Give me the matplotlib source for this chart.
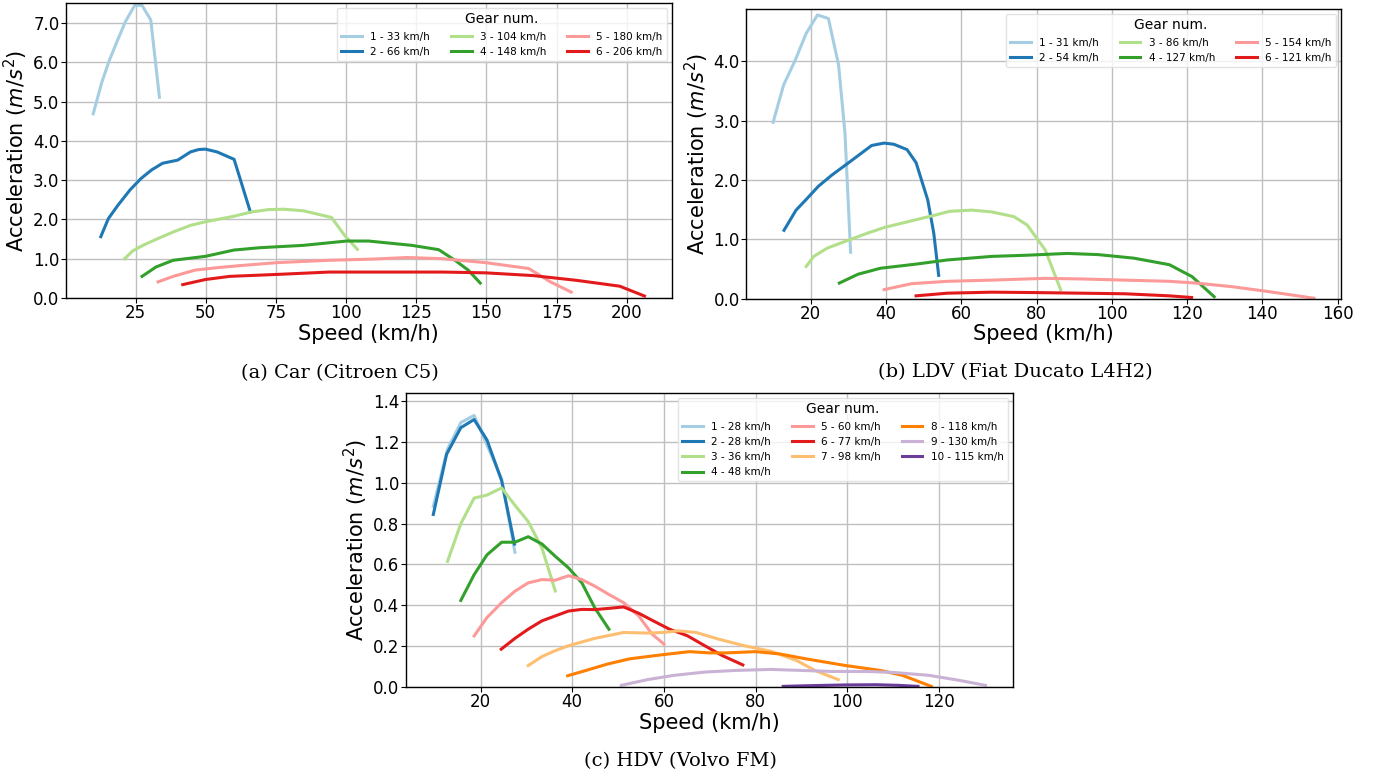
import matplotlib
matplotlib.use("Agg")
import matplotlib.pyplot as plt
from matplotlib.ticker import FormatStrFormatter

# Paired palette, one colour per gear
GEAR_COLORS = ['#a6cee3', '#1f78b4', '#b2df8a', '#33a02c', '#fb9a99',
               '#e31a1c', '#fdbf6f', '#ff7f00', '#cab2d6', '#6a3d9a']

# ---- (a) Car (Citroen C5) ----
car_labels = ['1 - 33 km/h', '2 - 66 km/h', '3 - 104 km/h',
              '4 - 148 km/h', '5 - 180 km/h', '6 - 206 km/h']
car_speed = [
    [9.9, 13.0, 15.7, 18.5, 21.4, 24.7, 27.3, 30.4, 33.5],
    [12.6, 15.3, 18.7, 23.0, 26.9, 30.7, 34.6, 40.0, 44.6, 47.5, 49.9, 54.0, 60.1, 65.9],
    [21.1, 24.0, 27.6, 33.8, 38.4, 44.6, 49.9, 60.0, 66.2, 72.4, 77.8, 84.8, 94.8, 99.4, 104.0],
    [27.3, 32.3, 38.4, 49.9, 60.0, 69.3, 84.8, 100.2, 108.0, 123.4, 133.0, 138.8, 143.5, 147.8],
    [33.0, 38.4, 46.2, 53.9, 63.2, 75.5, 94.0, 109.5, 121.8, 134.2, 149.7, 165.1, 172.8, 180.2],
    [41.8, 49.9, 58.5, 75.5, 94.0, 115.7, 134.2, 149.7, 166.6, 182.0, 197.5, 206.3],
]
car_accel = [
    [4.69, 5.50, 6.06, 6.55, 7.04, 7.45, 7.45, 7.08, 5.11],
    [1.56, 2.02, 2.36, 2.75, 3.04, 3.26, 3.43, 3.51, 3.72, 3.78, 3.79, 3.72, 3.53, 2.19],
    [1.00, 1.20, 1.34, 1.54, 1.68, 1.85, 1.94, 2.08, 2.19, 2.25, 2.26, 2.22, 2.05, 1.60, 1.24],
    [0.55, 0.79, 0.96, 1.06, 1.22, 1.28, 1.34, 1.45, 1.45, 1.34, 1.23, 0.96, 0.71, 0.38],
    [0.41, 0.55, 0.71, 0.77, 0.83, 0.90, 0.96, 0.99, 1.03, 1.00, 0.90, 0.75, 0.41, 0.15],
    [0.34, 0.47, 0.55, 0.60, 0.66, 0.66, 0.66, 0.64, 0.57, 0.45, 0.30, 0.05],
]

# ---- (b) LDV (Fiat Ducato L4H2) ----
ldv_labels = ['1 - 31 km/h', '2 - 54 km/h', '3 - 86 km/h',
              '4 - 127 km/h', '5 - 154 km/h', '6 - 121 km/h']
ldv_speed = [
    [10.0, 12.8, 15.9, 18.8, 21.8, 24.7, 27.4, 29.1, 30.6],
    [12.9, 16.1, 19.1, 22.0, 25.6, 30.3, 36.2, 39.5, 42.1, 45.6, 48.0, 51.1, 52.7, 54.0],
    [18.8, 20.8, 24.4, 30.3, 35.0, 39.7, 46.8, 53.3, 56.9, 62.8, 68.1, 74.0, 77.5, 82.3, 86.4],
    [27.6, 32.6, 38.5, 48.0, 56.3, 68.1, 77.5, 88.2, 96.4, 105.9, 115.3, 121.3, 127.2],
    [39.5, 46.8, 56.3, 68.1, 82.3, 91.7, 103.5, 115.3, 122.4, 131.9, 141.3, 153.7],
    [48.0, 56.3, 68.1, 80.0, 91.7, 103.5, 115.3, 121.2],
]
ldv_accel = [
    [2.97, 3.60, 4.02, 4.47, 4.78, 4.72, 3.94, 2.79, 0.78],
    [1.15, 1.49, 1.69, 1.89, 2.08, 2.30, 2.58, 2.62, 2.60, 2.51, 2.29, 1.66, 1.10, 0.39],
    [0.54, 0.71, 0.85, 0.99, 1.10, 1.20, 1.31, 1.41, 1.47, 1.49, 1.46, 1.38, 1.24, 0.82, 0.15],
    [0.26, 0.41, 0.51, 0.58, 0.65, 0.71, 0.73, 0.76, 0.74, 0.68, 0.57, 0.37, 0.03],
    [0.15, 0.25, 0.29, 0.31, 0.34, 0.33, 0.31, 0.29, 0.26, 0.20, 0.12, 0.005],
    [0.045, 0.09, 0.107, 0.10, 0.09, 0.08, 0.045, 0.017],
]

# ---- (c) HDV (Volvo FM) ----
hdv_labels = ['1 - 28 km/h', '2 - 28 km/h', '3 - 36 km/h', '4 - 48 km/h',
              '5 - 60 km/h', '6 - 77 km/h', '7 - 98 km/h', '8 - 118 km/h',
              '9 - 130 km/h', '10 - 115 km/h']
hdv_speed = [
    [9.7, 12.8, 15.7, 18.6, 24.6, 27.5],
    [9.7, 12.6, 15.7, 18.6, 21.4, 24.6, 27.4],
    [12.8, 15.7, 18.6, 21.4, 24.6, 27.5, 30.4, 33.4, 36.3],
    [15.7, 18.6, 21.4, 24.6, 27.5, 30.4, 33.4, 36.3, 39.2, 42.1, 44.9, 48.0],
    [18.6, 21.4, 24.6, 27.5, 30.4, 33.4, 36.3, 39.2, 42.1, 44.9, 48.0, 51.2, 54.5, 57.4, 60.0],
    [24.5, 27.5, 30.4, 33.4, 36.3, 39.2, 42.1, 44.9, 48.0, 51.2, 54.5, 57.4, 61.2, 65.1, 68.9, 72.7, 77.2],
    [30.4, 33.4, 36.3, 39.2, 44.9, 51.2, 56.4, 59.8, 63.1, 67.0, 71.8, 77.5, 83.3, 89.0, 92.9, 98.0],
    [39.0, 43.0, 47.8, 52.6, 59.3, 65.5, 69.9, 73.7, 79.9, 85.2, 90.9, 99.6, 107.2, 112.0, 118.3],
    [50.7, 56.4, 62.2, 68.9, 75.6, 83.3, 90.0, 96.7, 104.4, 110.1, 117.8, 124.5, 130.1],
    [86.0, 91.0, 99.6, 106.3, 111.1, 115.4],
]
hdv_accel = [
    [0.885, 1.165, 1.295, 1.33, 1.02, 0.66],
    [0.845, 1.14, 1.27, 1.31, 1.21, 1.01, 0.70],
    [0.615, 0.80, 0.925, 0.94, 0.975, 0.89, 0.81, 0.68, 0.47],
    [0.424, 0.55, 0.647, 0.709, 0.709, 0.736, 0.70, 0.64, 0.583, 0.51, 0.388, 0.283],
    [0.25, 0.34, 0.413, 0.469, 0.51, 0.526, 0.523, 0.545, 0.526, 0.494, 0.453, 0.413, 0.348, 0.259, 0.21],
    [0.185, 0.238, 0.283, 0.324, 0.348, 0.372, 0.38, 0.379, 0.385, 0.392, 0.361, 0.327, 0.283, 0.251, 0.202, 0.154, 0.108],
    [0.105, 0.149, 0.178, 0.202, 0.238, 0.267, 0.264, 0.267, 0.275, 0.267, 0.235, 0.202, 0.175, 0.129, 0.081, 0.036],
    [0.055, 0.081, 0.113, 0.138, 0.157, 0.173, 0.167, 0.167, 0.173, 0.162, 0.138, 0.105, 0.081, 0.057, 0.003],
    [0.008, 0.036, 0.057, 0.073, 0.081, 0.086, 0.081, 0.076, 0.076, 0.071, 0.057, 0.032, 0.008],
    [0.003, 0.006, 0.010, 0.011, 0.008, 0.003],
]


def draw_panel(ax, speeds, accels, labels, ymax, xticks, yticks, caption):
    for i, (x, y, lab) in enumerate(zip(speeds, accels, labels)):
        ax.plot(x, y, color=GEAR_COLORS[i], linewidth=2.2, label=lab)

    ax.set_ylim(0, ymax)
    ax.set_xticks(xticks)
    ax.set_yticks(yticks)
    ax.yaxis.set_major_formatter(FormatStrFormatter('%.1f'))
    ax.tick_params(labelsize=12, pad=1)
    ax.grid(True, color='#c0c0c0', linewidth=1.0)
    for sp in ax.spines.values():
        sp.set_linewidth(1.0)

    ax.set_xlabel('Speed (km/h)', fontsize=15, labelpad=1)
    ax.set_ylabel(r'Acceleration $(m/s^2)$', fontsize=15, labelpad=2)

    leg = ax.legend(title='Gear num.', ncol=3, loc='upper right',
                    fontsize=7.5, title_fontsize=10, framealpha=0.8)
    leg.get_frame().set_edgecolor('#dddddd')

    # caption centred under the sub-figure, LaTeX-like serif
    ax.text(0.453, -0.253, caption, transform=ax.transAxes,
            ha='center', va='center', fontsize=14, family='DejaVu Serif')


fig = plt.figure(figsize=(13.79, 7.78), dpi=100)

ax_a = fig.add_axes([0.0476, 0.6170, 0.4397, 0.3791])
ax_b = fig.add_axes([0.5410, 0.6163, 0.4314, 0.3721])
ax_c = fig.add_axes([0.2942, 0.1170, 0.4404, 0.3779])

draw_panel(ax_a, car_speed, car_accel, car_labels, 7.51,
           [25, 50, 75, 100, 125, 150, 175, 200],
           [0, 1, 2, 3, 4, 5, 6, 7], '(a) Car (Citroen C5)')
draw_panel(ax_b, ldv_speed, ldv_accel, ldv_labels, 4.88,
           [20, 40, 60, 80, 100, 120, 140, 160],
           [0, 1, 2, 3, 4], '(b) LDV (Fiat Ducato L4H2)')
draw_panel(ax_c, hdv_speed, hdv_accel, hdv_labels, 1.44,
           [20, 40, 60, 80, 100, 120],
           [0, 0.2, 0.4, 0.6, 0.8, 1.0, 1.2, 1.4], '(c) HDV (Volvo FM)')

fig.savefig('out.png', dpi=100)
